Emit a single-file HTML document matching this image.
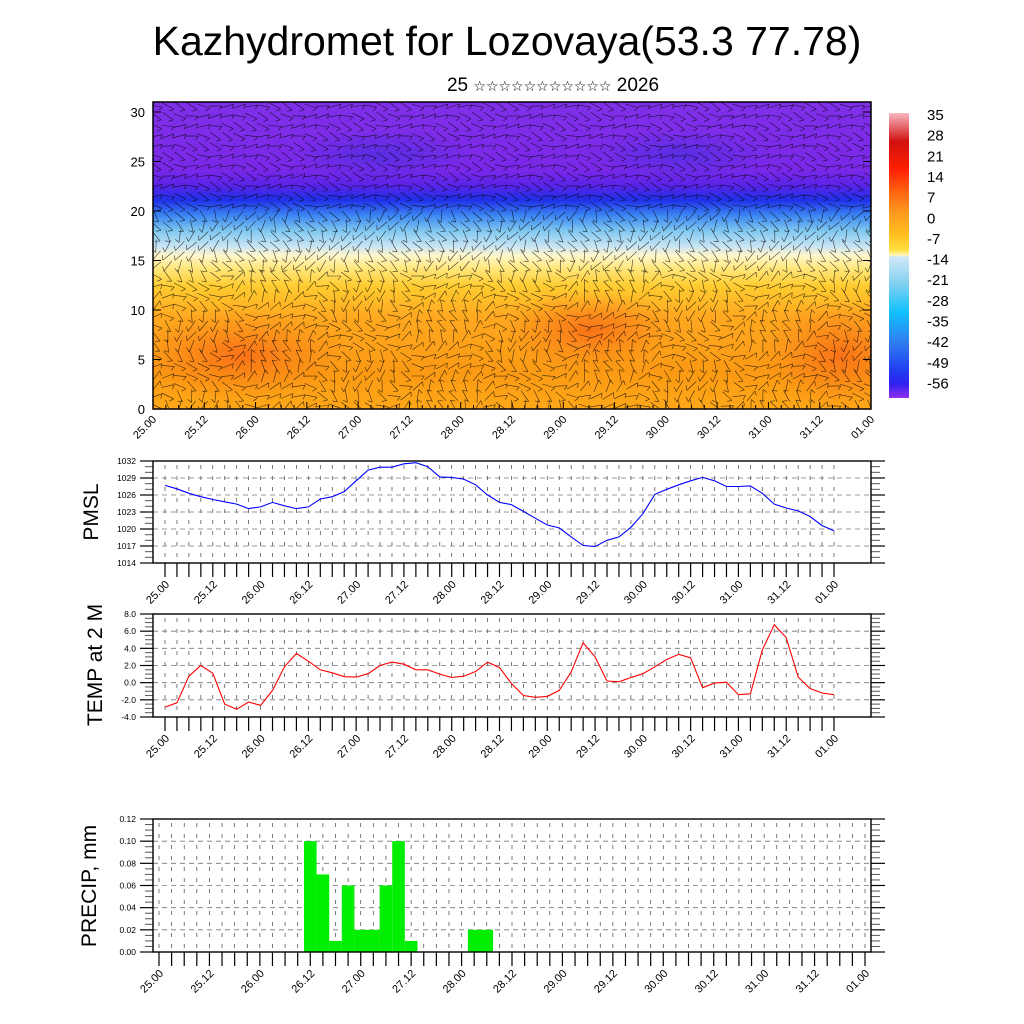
<!DOCTYPE html>
<html><head><meta charset="utf-8"><style>
html,body{margin:0;padding:0;background:#fff;}
svg{display:block;font-family:"Liberation Sans",sans-serif;}
</style></head><body>
<svg id="c" width="1024" height="1024" viewBox="0 0 1024 1024" xmlns="http://www.w3.org/2000/svg">
<defs>
<linearGradient id="fieldGrad" x1="0" y1="1" x2="0" y2="0">
<stop offset="0" stop-color="#ffa818"/>
<stop offset="0.12" stop-color="#fb9a14"/>
<stop offset="0.3" stop-color="#ffa820"/>
<stop offset="0.4" stop-color="#ffcc30"/>
<stop offset="0.46" stop-color="#ffe880"/>
<stop offset="0.5" stop-color="#fff6cc"/>
<stop offset="0.53" stop-color="#c8e4f4"/>
<stop offset="0.58" stop-color="#80c8f0"/>
<stop offset="0.63" stop-color="#3c86f2"/>
<stop offset="0.68" stop-color="#2030e8"/>
<stop offset="0.73" stop-color="#5a24e8"/>
<stop offset="0.78" stop-color="#7a28e8"/>
<stop offset="1" stop-color="#8030e8"/>
</linearGradient>
<radialGradient id="blobOr"><stop offset="0" stop-color="#f86818" stop-opacity="0.85"/><stop offset="1" stop-color="#f88018" stop-opacity="0"/></radialGradient>
<radialGradient id="blobBl"><stop offset="0" stop-color="#4030e0" stop-opacity="0.6"/><stop offset="1" stop-color="#4030e0" stop-opacity="0"/></radialGradient>
<linearGradient id="cbGrad" x1="0" y1="0" x2="0" y2="1">
<stop offset="0" stop-color="#f8b8c0"/>
<stop offset="0.1" stop-color="#d01010"/>
<stop offset="0.2" stop-color="#ff2000"/>
<stop offset="0.27" stop-color="#ff6010"/>
<stop offset="0.35" stop-color="#ff9a20"/>
<stop offset="0.43" stop-color="#ffc020"/>
<stop offset="0.48" stop-color="#ffe040"/>
<stop offset="0.5" stop-color="#fff8c0"/>
<stop offset="0.505" stop-color="#d0e8f8"/>
<stop offset="0.6" stop-color="#80d0f0"/>
<stop offset="0.7" stop-color="#10c0ff"/>
<stop offset="0.8" stop-color="#3080f0"/>
<stop offset="0.9" stop-color="#2040f0"/>
<stop offset="0.95" stop-color="#3020f0"/>
<stop offset="1" stop-color="#9030f0"/>
</linearGradient>
<clipPath id="fieldClip"><rect x="153" y="102" width="718" height="307"/></clipPath>
</defs>
<text x="507" y="55" font-size="41" text-anchor="middle">Kazhydromet for Lozovaya(53.3 77.78)</text>
<text x="553" y="91" font-size="19" text-anchor="middle">25 <tspan font-family="DejaVu Sans" font-size="14">☆☆☆☆☆☆☆☆☆☆☆</tspan> 2026</text>
<g id="top">
<rect x="153" y="102" width="718" height="307" fill="url(#fieldGrad)"/>
<g clip-path="url(#fieldClip)">
<ellipse cx="240" cy="355" rx="110" ry="45" fill="url(#blobOr)"/>
<ellipse cx="590" cy="330" rx="90" ry="40" fill="url(#blobOr)"/>
<ellipse cx="840" cy="355" rx="80" ry="55" fill="url(#blobOr)"/>
<ellipse cx="380" cy="155" rx="90" ry="25" fill="url(#blobBl)"/>
<ellipse cx="680" cy="155" rx="90" ry="25" fill="url(#blobBl)"/>
<g id="barbs" stroke="#000" stroke-width="0.6" stroke-opacity="0.75" fill="none"></g>
</g>
<rect x="153" y="102" width="718" height="307" fill="none" stroke="#000" stroke-width="1.5"/>
<g id="topAxes"></g>
</g>
<g>
<rect x="889" y="113" width="20" height="285" fill="url(#cbGrad)"/>
<g id="cbLabels" font-size="15"></g>
</g>
<g id="pmsl"></g>
<g id="temp"></g>
<g id="precip"></g>
<text transform="translate(98,512) rotate(-90)" font-size="21" text-anchor="middle">PMSL</text>
<text transform="translate(102,665) rotate(-90)" font-size="21" text-anchor="middle">TEMP at 2 M</text>
<text transform="translate(96,886) rotate(-90)" font-size="21" text-anchor="middle">PRECIP, mm</text>
</svg>
<script>
const timeLabels = ["25.00","25.12","26.00","26.12","27.00","27.12","28.00","28.12","29.00","29.12","30.00","30.12","31.00","31.12","01.00"];
const topYTicks = [0,5,10,15,20,25,30];
const cbTicks = ["35","28","21","14","7","0","-7","-14","-21","-28","-35","-42","-49","-56"];
const pmslValues = [1027.7,1027.1,1026.3,1025.7,1025.2,1024.8,1024.4,1023.6,1023.9,1024.7,1024.1,1023.6,1023.9,1025.3,1025.7,1026.6,1028.5,1030.4,1030.9,1030.9,1031.5,1031.7,1031.0,1029.2,1029.1,1028.8,1027.8,1026.0,1024.7,1024.3,1023.1,1021.9,1020.7,1020.2,1018.6,1017.1,1016.9,1018.0,1018.6,1020.3,1022.7,1026.1,1027.0,1027.8,1028.5,1029.1,1028.5,1027.5,1027.5,1027.6,1026.3,1024.4,1023.7,1023.2,1022.2,1020.6,1019.7];
const pmslTicks = ["1014","1017","1020","1023","1026","1029","1032"];
const tempValues = [-2.85,-2.35,0.75,2.0,1.1,-2.5,-3.1,-2.25,-2.65,-0.9,1.85,3.4,2.5,1.5,1.15,0.7,0.65,1.05,2.0,2.4,2.15,1.5,1.5,1.0,0.6,0.75,1.3,2.4,1.75,-0.1,-1.5,-1.7,-1.6,-0.9,1.25,4.65,3.0,0.2,0.1,0.6,1.05,1.85,2.7,3.3,2.9,-0.6,-0.05,0.05,-1.4,-1.3,3.8,6.75,5.25,0.65,-0.7,-1.2,-1.4];
const tempTicks = ["-4.0","-2.0","0.0","2.0","4.0","6.0","8.0"];
const precipValues = [0,0,0,0,0,0,0,0,0,0,0,0,0.10,0.07,0.01,0.06,0.02,0.02,0.06,0.10,0.01,0,0,0,0,0.02,0.02,0,0,0,0,0,0,0,0,0,0,0,0,0,0,0,0,0,0,0,0,0,0,0,0,0,0,0,0,0,0];
const precipTicks = ["0.00","0.02","0.04","0.06","0.08","0.10","0.12"];

const NS="http://www.w3.org/2000/svg";
function mk(tag, attrs, parent){const e=document.createElementNS(NS,tag);for(const k in attrs)e.setAttribute(k,attrs[k]);parent.appendChild(e);return e;}

(function(){
  const g=document.getElementById('topAxes');
  const x0=153,x1=871;
  const ys=v=>409-(v/30)*(409-112);
  topYTicks.forEach(v=>{
    const y=ys(v);
    mk('line',{x1:x0,y1:y,x2:x0+8,y2:y,stroke:'#000'},g);
    mk('line',{x1:x1,y1:y,x2:x1-8,y2:y,stroke:'#000'},g);
    const t=mk('text',{x:x0-8,y:y+5,'font-size':13,'text-anchor':'end'},g);
    t.textContent=v;
    
    
  });
  const xs=i=>x0+i*(x1-x0)/56;
  for(let i=0;i<=56;i++){
    const x=xs(i);
    mk('line',{x1:x,y1:409,x2:x,y2:i%4==0?402:405,stroke:'#000'},g);
  }
  timeLabels.forEach((lab,i)=>{
    const x=xs(i*4);
    const t=mk('text',{transform:`translate(${x+4},${420}) rotate(-45)`,'font-size':11,'text-anchor':'end'},g);
    t.textContent=lab;
    
    
  });
  const cg=document.getElementById('cbLabels');
  cbTicks.forEach((lab,i)=>{
    const t=mk('text',{x:927,y:120+i*20.65},cg);
    t.textContent=lab;
    
    
  });
  const bg=document.getElementById('barbs');
  let d='';
  for(let r=0;r<31;r++){
    for(let c=0;c<61;c++){
      const x=156+c*11.9, y=106+r*10;
      const lev=(409-y)/10;
      let a;
      if(lev>20) a=Math.PI*0.05+Math.sin(c*0.7+r*1.3)*0.5;
      else if(lev>14) a=Math.PI*0.5+Math.sin(c*0.5+r*0.9)*0.9;
      else a=Math.sin(c*0.45)*1.4+Math.cos(r*0.8+c*0.2)*1.0;
      const L=13;
      const dx=Math.cos(a)*L, dy=Math.sin(a)*L;
      d+=`M${(x-dx/2).toFixed(1)} ${(y-dy/2).toFixed(1)}L${(x+dx/2).toFixed(1)} ${(y+dy/2).toFixed(1)}`;
      const fx=x+dx/2, fy=y+dy/2;
      const pa=a+2.2;
      d+=`M${fx.toFixed(1)} ${fy.toFixed(1)}l${(Math.cos(pa)*5).toFixed(1)} ${(Math.sin(pa)*5).toFixed(1)}`;
    }
  }
  mk('path',{d:d},bg);
})();

function panel(gid,name,top,bottom,tdx0,tdx1,ticks,vmin,vmax,nMinor,draw){
  const g=document.getElementById(gid);
  
  
  const x0=153,x1=871;
  const ys=v=>bottom-(v-vmin)/(vmax-vmin)*(bottom-top);
  const xs=i=>tdx0+i*(tdx1-tdx0)/56;
  for(let i=0;i<=56;i++){
    const x=xs(i);
    if(x>x0+1&&x<x1-1) mk('line',{x1:x,y1:top+4,x2:x,y2:bottom,stroke:'#444','stroke-width':0.7,'stroke-dasharray':'4 7'},g);
  }
  const nT=ticks.length;
  for(let k=0;k<nT;k++){
    const v=vmin+k*(vmax-vmin)/(nT-1);
    const y=ys(v);
    if(k>0&&k<nT-1) mk('line',{x1:x0,y1:y,x2:x1,y2:y,stroke:'#777','stroke-width':0.8,'stroke-dasharray':'5 4'},g);
    mk('line',{x1:x0-13,y1:y,x2:x0,y2:y,stroke:'#000','stroke-width':1.2},g);
    mk('line',{x1:x1,y1:y,x2:x1+14,y2:y,stroke:'#000','stroke-width':1.2},g);
    const t=mk('text',{x:x0-17,y:y+3,'font-size':8.5,'text-anchor':'end'},g);
    t.textContent=ticks[k];
    
    
    if(k<nT-1){
      for(let m=1;m<nMinor;m++){
        const ym=ys(v+m*(vmax-vmin)/(nT-1)/nMinor);
        mk('line',{x1:x0-8,y1:ym,x2:x0,y2:ym,stroke:'#555','stroke-width':1},g);
        mk('line',{x1:x1,y1:ym,x2:x1+9,y2:ym,stroke:'#555','stroke-width':1},g);
      }
    }
  }
  draw(g,xs,ys);
  mk('rect',{x:x0,y:top,width:x1-x0,height:bottom-top,fill:'none',stroke:'#000','stroke-width':1.4},g);
  for(let i=0;i<=56;i++){
    const x=xs(i);
    mk('line',{x1:x,y1:bottom,x2:x,y2:bottom+14,stroke:'#000','stroke-width':1.2},g);
  }
  timeLabels.forEach((lab,i)=>{
    const x=xs(i*4);
    const t=mk('text',{transform:`translate(${x+5},${bottom+22}) rotate(-45)`,'font-size':11,'text-anchor':'end'},g);
    t.textContent=lab;
    
    
  });
}

panel('pmsl','pmsl',461,563,165,834,pmslTicks,1014,1032,3,(g,xs,ys)=>{
  const p=mk('polyline',{points:pmslValues.map((v,i)=>xs(i).toFixed(1)+','+ys(v).toFixed(1)).join(' '),fill:'none',stroke:'#0000ff','stroke-width':1.1},g);
  
  
});
panel('temp','temp',614,717,165,834,tempTicks,-4,8,4,(g,xs,ys)=>{
  const p=mk('polyline',{points:tempValues.map((v,i)=>xs(i).toFixed(1)+','+ys(v).toFixed(1)).join(' '),fill:'none',stroke:'#ff0000','stroke-width':1.1},g);
  
  
});
panel('precip','precip',819,952,159,865,precipTicks,0,0.12,4,(g,xs,ys)=>{
  const w=(865-159)/56;
  precipValues.forEach((v,i)=>{
    if(v<=0) return;
    const b=mk('rect',{x:xs(i)-w/2,y:ys(v),width:w,height:ys(0)-ys(v),fill:'#00ee00'},g);
    
    
  });
});
</script>
</body></html>
